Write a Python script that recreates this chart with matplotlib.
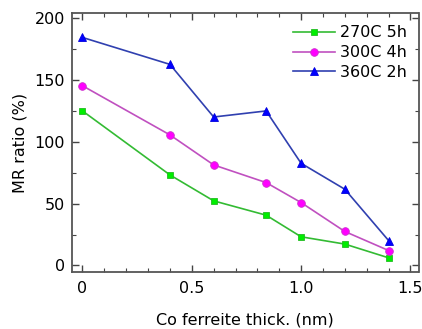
import numpy as np
import matplotlib.pyplot as plt
from matplotlib.ticker import MultipleLocator

plt.rcParams['font.family'] = ['DejaVu Sans']

thick = [0, 0.4, 0.6, 0.84, 1.0, 1.2, 1.4]
mr_270 = [125.1, 73.3, 52.3, 40.7, 23.2, 17.3, 6.2]
mr_300 = [145.5, 105.7, 81.4, 67.1, 50.9, 27.5, 12.1]
mr_360 = [184.6, 162.8, 120.2, 125.1, 82.7, 61.7, 20.2]
labels = ['270C 5h', '300C 4h', '360C 2h']

fig = plt.figure(figsize=(4.22, 3.29), dpi=100)
ax = fig.add_axes([72/422, 1-271.5/329, 346.5/422, 258/329])

ax.plot(thick, mr_270, color='#33bb33', lw=1.2, marker='s', ms=5,
        mfc='#00ee00', mec='#22bb22', mew=0.6, label=labels[0])
ax.plot(thick, mr_300, color='#c050c0', lw=1.2, marker='o', ms=5.5,
        mfc='#ff00ff', mec='#cc33cc', mew=0.6, label=labels[1])
ax.plot(thick, mr_360, color='#3040b0', lw=1.2, marker='^', ms=6,
        mfc='#0000ff', mec='#0000dd', mew=0.6, label=labels[2])

ax.set_xlim(-0.048, 1.537)
ax.set_ylim(-4.9, 204)
ax.xaxis.set_minor_locator(MultipleLocator(0.1))
ax.yaxis.set_major_locator(MultipleLocator(50))
ax.yaxis.set_minor_locator(MultipleLocator(25))
ax.set_xticks([0, 0.5, 1.0, 1.5])
ax.set_xticklabels(['0', '0.5', '1.0', '1.5'])

ax.tick_params(which='both', direction='in', top=True, right=True, labelsize=11.5, color='#444444')
ax.tick_params(which='major', length=5, width=1)
ax.tick_params(which='minor', length=3, width=0.8)
ax.tick_params(axis='x', pad=7)
ax.tick_params(axis='y', pad=5)
for s in ax.spines.values():
    s.set_color('#555555')
    s.set_linewidth(1.3)

ax.set_xlabel('Co ferreite thick. (nm)', fontsize=11.5, labelpad=12)
ax.set_ylabel('MR ratio (%)', fontsize=11.5, labelpad=5)

ax.legend(loc='upper right', frameon=False, fontsize=11.5, handlelength=2.6,
          handletextpad=0.3, labelspacing=0.3, borderaxespad=0.35)

fig.savefig('out.png', dpi=100)
